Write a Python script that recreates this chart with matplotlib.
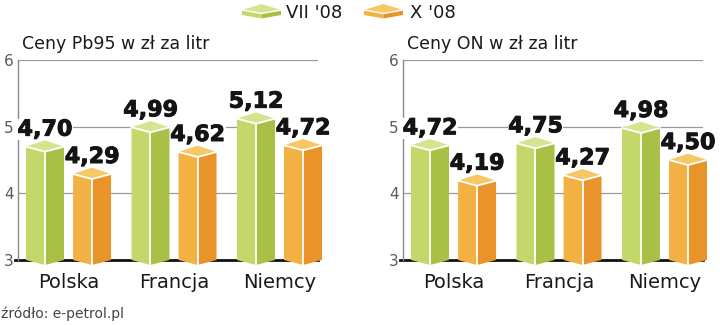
import matplotlib
matplotlib.use("Agg")
import matplotlib.pyplot as plt
import matplotlib.patheffects as pe
from matplotlib.patches import Polygon
from matplotlib.lines import Line2D

# --- data -------------------------------------------------------------
countries = ["Polska", "Francja", "Niemcy"]
series_names = ["VII '08", "X '08"]
pb95_jul = [4.70, 4.99, 5.12]
pb95_oct = [4.29, 4.62, 4.72]
on_jul = [4.72, 4.75, 4.98]
on_oct = [4.19, 4.27, 4.50]
panel_titles = ["Ceny Pb95 w zł za litr", "Ceny ON w zł za litr"]
y_ticks = [3, 4, 5, 6]
source = "źródło: e-petrol.pl"

# --- style ------------------------------------------------------------
GREEN = {"left": "#c4d76b", "right": "#a9c046", "top": "#d6e38f"}
ORANGE = {"left": "#f4b143", "right": "#e8942a", "top": "#f7c665"}
BASE = 3.0
FRONT_DROP = 0.075   # front edge sits slightly lower (perspective)
BACK_RISE = 0.095    # back corner of the top face
BAR_W = 0.36
OFFSET = 0.223

W, H = 720, 325
fig = plt.figure(figsize=(W / 100, H / 100), dpi=100)
fig.patch.set_facecolor("white")

TEXT_FONT = ["DejaVu Sans"]
NUM_FONT = ["DejaVu Sans"]


def prism(ax, xc, v, colors, width=BAR_W, base=BASE, drop=FRONT_DROP, rise=BACK_RISE):
    xl, xr, xm = xc - width / 2, xc + width / 2, xc
    left = [(xl, base), (xl, v), (xm, v - drop), (xm, base - drop)]
    right = [(xm, base - drop), (xm, v - drop), (xr, v), (xr, base)]
    top = [(xl, v), (xm, v + rise), (xr, v), (xm, v - drop)]
    for pts, key in ((left, "left"), (right, "right"), (top, "top")):
        ax.add_patch(Polygon(pts, closed=True, facecolor=colors[key],
                             edgecolor="none", clip_on=False, zorder=3))
    ax.add_line(Line2D([xm, xm], [base - drop, v - drop], color="white",
                       lw=1.3, clip_on=False, zorder=4))
    ax.add_line(Line2D([xl, xm, xr], [v, v - drop, v], color="white",
                       lw=1.3, clip_on=False, zorder=4, solid_joinstyle="miter"))


def panel(rect, jul, oct_):
    ax = fig.add_axes(rect)
    ax.set_xlim(-0.479, 2.365)
    ax.set_ylim(3, 6)
    for s in ("top", "right", "bottom"):
        ax.spines[s].set_visible(False)
    ax.spines["left"].set_color("#8a8a8a")
    ax.spines["left"].set_linewidth(1.0)
    for g in (4, 5, 6):
        ax.axhline(g, color="#9a9a9a", lw=0.9, zorder=1)
    ax.axhline(3, xmin=-0.01, color="#111111", lw=2.0, zorder=2, clip_on=False)
    ax.set_yticks(y_ticks)
    ax.set_yticklabels([str(t) for t in y_ticks], family=TEXT_FONT,
                       fontsize=11, color="#5a5a5a")
    ax.tick_params(axis="y", length=0, pad=3)
    ax.set_xticks(range(len(countries)))
    ax.set_xticklabels(countries, family=TEXT_FONT, fontsize=14, color="#1a1a1a")
    ax.tick_params(axis="x", length=0, pad=9)
    ax.set_facecolor("none")

    heavy = [pe.withStroke(linewidth=0.7, foreground="#141414")]
    for i, (a, b) in enumerate(zip(jul, oct_)):
        for xc, v, col in ((i - OFFSET, a, GREEN), (i + OFFSET, b, ORANGE)):
            prism(ax, xc, v, col)
            ax.text(xc, v + 0.165, f"{v:.2f}".replace(".", ","), ha="center",
                    va="baseline", family=NUM_FONT, fontweight="bold",
                    fontsize=16, color="#141414", zorder=5, path_effects=heavy,
                    bbox=dict(facecolor="white", edgecolor="none", pad=0.5))
    return ax


ax_h = 200 / H
ax_b = (H - 260) / H
panel([18 / W, ax_b, 300 / W, ax_h], pb95_jul, pb95_oct)
panel([403 / W, ax_b, 300 / W, ax_h], on_jul, on_oct)

# overlay in pixel coordinates for titles, legend and source
ov = fig.add_axes([0, 0, 1, 1])
ov.set_xlim(0, W)
ov.set_ylim(H, 0)
ov.axis("off")
ov.set_zorder(-1)

ov.text(22, 49, panel_titles[0], family=TEXT_FONT, fontsize=12.5, color="#1a1a1a",
        va="baseline", ha="left")
ov.text(407, 49, panel_titles[1], family=TEXT_FONT, fontsize=12.5, color="#1a1a1a",
        va="baseline", ha="left")
ov.text(1, 318, source, family=TEXT_FONT, fontsize=10, color="#444444",
        va="baseline", ha="left")


def legend_box(x0, colors, w=39, top=4, mid=10, bot=15, depth=3.5):
    xm = x0 + w / 2
    xr = x0 + w
    top_face = [(x0, mid), (xm, top), (xr, mid), (xm, mid + depth)]
    left = [(x0, mid), (xm, mid + depth), (xm, bot + depth), (x0, bot)]
    right = [(xm, mid + depth), (xr, mid), (xr, bot), (xm, bot + depth)]
    for pts, key in ((left, "left"), (right, "right"), (top_face, "top")):
        ov.add_patch(Polygon(pts, closed=True, facecolor=colors[key], edgecolor="none"))
    ov.add_line(Line2D([x0, xm, xr], [mid, mid + depth, mid], color="white", lw=1))


legend_box(242, GREEN)
ov.text(286, 18.5, series_names[0], family=TEXT_FONT, fontsize=13, color="#1a1a1a",
        va="baseline")
legend_box(364, ORANGE)
ov.text(410, 18.5, series_names[1], family=TEXT_FONT, fontsize=13, color="#1a1a1a",
        va="baseline")

fig.savefig("out.png", dpi=100)
